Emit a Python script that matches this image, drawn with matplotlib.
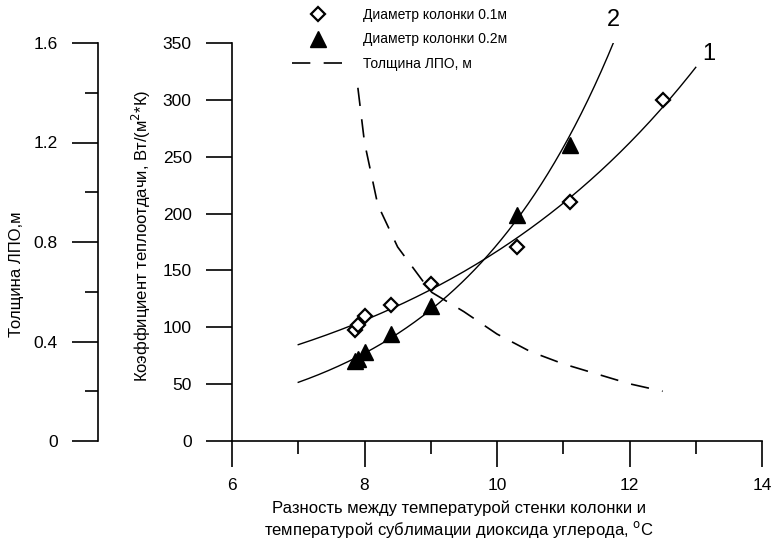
import numpy as np
import matplotlib.pyplot as plt
from matplotlib.legend_handler import HandlerLine2D

plt.rcParams['font.family'] = ['Liberation Sans', 'DejaVu Sans']

# диаметр колонки 0.1 м
x1 = [7.85, 7.9, 8.0, 8.4, 9.0, 10.3, 11.1, 12.5]
y1 = [98, 102, 110, 120, 138, 171, 210, 300]
# диаметр колонки 0.2 м
x2 = [7.85, 7.9, 8.0, 8.4, 9.0, 10.3, 11.1]
y2 = [70, 72, 78, 94, 119, 199, 260]
# толщина ЛПО, м
xt = [7.9, 8.0, 8.2, 8.5, 9.0, 9.5, 10.0, 10.5, 11.0, 11.5, 12.0, 12.5]
yt = [1.42, 1.2, 0.95, 0.78, 0.6, 0.52, 0.43, 0.36, 0.31, 0.27, 0.23, 0.20]


class LeftMarker(HandlerLine2D):
    def get_xdata(self, legend, xdescent, ydescent, width, height, fontsize):
        xdata, _ = super().get_xdata(legend, xdescent, ydescent, width, height, fontsize)
        return xdata, np.array([-xdescent + 0.22 * width])


fig = plt.figure(figsize=(7.73, 5.43), dpi=100)
ax = fig.add_axes([232 / 773, 1 - 441 / 543, 530 / 773, 398 / 543])

# экспоненциальные линии тренда по точкам
b1, a1 = np.polyfit(x1, np.log(y1), 1)
b2, a2 = np.polyfit(x2, np.log(y2), 1)
xf1 = np.linspace(7, 13, 200)
xf2 = np.linspace(7, 12, 200)
ax.plot(xf1, np.exp(a1 + b1 * xf1), color='black', lw=1.0)
ax.plot(xf2, np.exp(a2 + b2 * xf2), color='black', lw=1.0)

h1, = ax.plot(x1, y1, ls='none', marker='D', ms=7.5, mfc='white', mec='black', mew=1.6,
              label='Диаметр колонки 0.1м')
h2, = ax.plot(x2, y2, ls='none', marker='^', ms=11, mfc='black', mec='black',
              label='Диаметр колонки 0.2м')

ax.set_xlim(6, 14)
ax.set_ylim(0, 350)
ax.set_xticks([6, 8, 10, 12, 14])
ax.set_xticks([7, 9, 11, 13], minor=True)
ax.set_yticks(np.arange(0, 351, 50))
for s in ['top', 'right']:
    ax.spines[s].set_visible(False)
for s in ['left', 'bottom']:
    ax.spines[s].set_linewidth(1.2)
ax.tick_params(which='major', direction='out', length=19, width=1.2, labelsize=12.5, pad=8)
ax.tick_params(which='minor', direction='out', length=9.5, width=1.2)
ax.tick_params(axis='y', pad=10)

ax.set_ylabel('Коэффициент теплоотдачи, Вт/(м$^2$*К)', fontsize=12)
ax.yaxis.set_label_coords(-0.149, 0.515)
ax.set_xlabel('Разность между температурой стенки колонки и\n'
              'температурой сублимации диоксида углерода, $^{\\mathrm{o}}$С',
              fontsize=12, linespacing=1.2)
ax.xaxis.set_label_coords(0.428, -0.15)

ax.text(13.2, 340, '1', fontsize=17, ha='center', va='center')
ax.text(11.75, 370, '2', fontsize=17, ha='center', va='center', clip_on=False)

# вторая ось: толщина ЛПО
ax2 = ax.twinx()
ax2.spines['left'].set_position(('axes', -0.253))
ax2.yaxis.set_ticks_position('left')
ax2.yaxis.set_label_position('left')
for s in ['top', 'right', 'bottom']:
    ax2.spines[s].set_visible(False)
ax2.spines['left'].set_linewidth(1.2)
h3, = ax2.plot(xt, yt, color='black', lw=1.2, ls=(0, (11, 8)), label='Толщина ЛПО, м')
ax2.set_ylim(0, 1.6)
ax2.set_yticks([0, 0.4, 0.8, 1.2, 1.6])
ax2.set_yticklabels(['0', '0.4', '0.8', '1.2', '1.6'])
ax2.set_yticks(np.arange(0.2, 1.6, 0.4), minor=True)
ax2.tick_params(which='major', direction='out', length=19, width=1.2, labelsize=12.5, pad=10)
ax2.tick_params(which='minor', direction='out', length=9.5, width=1.2)
ax2.set_ylabel('Толщина ЛПО,м', fontsize=12)
ax2.yaxis.set_label_coords(-0.392, 0.42)

fig.legend(handles=[h1, h2, h3], loc='upper left', bbox_to_anchor=(292 / 773, 1 - 8 / 543),
           frameon=False, fontsize=10, borderpad=0, borderaxespad=0, handlelength=3.7,
           handletextpad=1.4, labelspacing=0.75, numpoints=1,
           handler_map={h1: LeftMarker(), h2: LeftMarker()})

fig.savefig('out.png', dpi=100)
